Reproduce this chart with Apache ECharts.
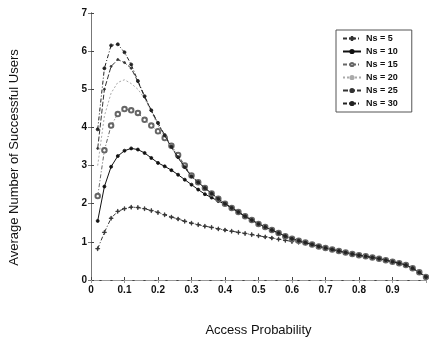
<!DOCTYPE html>
<html>
<head>
<meta charset="utf-8">
<script src="https://cdn.jsdelivr.net/npm/echarts@6/dist/echarts.min.js"></script>
<style>
  html, body { margin: 0; padding: 0; background: #fff; }
  #chart { width: 429px; height: 342px; }
</style>
</head>
<body>
<div id="chart"></div>
<script>
// access probability, step 0.02
const prob = [0.02, 0.04, 0.06, 0.08, 0.10, 0.12, 0.14, 0.16, 0.18, 0.20,
  0.22, 0.24, 0.26, 0.28, 0.30, 0.32, 0.34, 0.36, 0.38, 0.40,
  0.42, 0.44, 0.46, 0.48, 0.50, 0.52, 0.54, 0.56, 0.58, 0.60,
  0.62, 0.64, 0.66, 0.68, 0.70, 0.72, 0.74, 0.76, 0.78, 0.80,
  0.82, 0.84, 0.86, 0.88, 0.90, 0.92, 0.94, 0.96, 0.98, 1.00];

const ns5 = [0.82, 1.25, 1.62, 1.80, 1.87, 1.91, 1.90, 1.87, 1.82, 1.77,
  1.71, 1.65, 1.60, 1.54, 1.49, 1.45, 1.41, 1.38, 1.34, 1.31,
  1.28, 1.25, 1.22, 1.19, 1.16, 1.13, 1.10, 1.07, 1.04, 1.01,
  0.99, 0.97, 0.93, 0.88, 0.84, 0.80, 0.76, 0.72, 0.68, 0.65,
  0.62, 0.59, 0.56, 0.52, 0.48, 0.44, 0.39, 0.31, 0.20, 0.08];

const ns10 = [1.55, 2.45, 2.97, 3.25, 3.39, 3.45, 3.42, 3.33, 3.20, 3.07,
  2.98, 2.88, 2.76, 2.63, 2.50, 2.37, 2.25, 2.16, 2.07, 1.99,
  1.89, 1.78, 1.67, 1.57, 1.47, 1.39, 1.31, 1.23, 1.15, 1.08,
  1.03, 0.98, 0.93, 0.88, 0.84, 0.80, 0.76, 0.72, 0.68, 0.65,
  0.62, 0.59, 0.56, 0.52, 0.48, 0.44, 0.39, 0.31, 0.20, 0.08];

const ns15 = [2.20, 3.40, 4.05, 4.35, 4.48, 4.45, 4.38, 4.20, 4.05, 3.90,
  3.72, 3.52, 3.28, 3.00, 2.74, 2.56, 2.41, 2.27, 2.13, 2.00,
  1.89, 1.78, 1.67, 1.57, 1.47, 1.39, 1.31, 1.23, 1.15, 1.08,
  1.03, 0.98, 0.93, 0.88, 0.84, 0.80, 0.76, 0.72, 0.68, 0.65,
  0.62, 0.59, 0.56, 0.52, 0.48, 0.44, 0.39, 0.31, 0.20, 0.08];

const ns20 = [3.00, 4.30, 4.90, 5.18, 5.25, 5.15, 5.00, 4.76, 4.42, 4.05,
  3.76, 3.47, 3.20, 2.94, 2.71, 2.56, 2.41, 2.27, 2.13, 2.00,
  1.89, 1.78, 1.67, 1.57, 1.47, 1.39, 1.31, 1.23, 1.15, 1.08,
  1.03, 0.98, 0.93, 0.88, 0.84, 0.80, 0.76, 0.72, 0.68, 0.65,
  0.62, 0.59, 0.56, 0.52, 0.48, 0.44, 0.39, 0.31, 0.20, 0.08];

const ns25 = [3.45, 5.00, 5.60, 5.78, 5.70, 5.55, 5.20, 4.80, 4.44, 4.10,
  3.78, 3.48, 3.21, 2.95, 2.71, 2.56, 2.41, 2.27, 2.13, 2.00,
  1.89, 1.78, 1.67, 1.57, 1.47, 1.39, 1.31, 1.23, 1.15, 1.08,
  1.03, 0.98, 0.93, 0.88, 0.84, 0.80, 0.76, 0.72, 0.68, 0.65,
  0.62, 0.59, 0.56, 0.52, 0.48, 0.44, 0.39, 0.31, 0.20, 0.08];

const ns30 = [3.95, 5.55, 6.15, 6.18, 5.97, 5.65, 5.22, 4.82, 4.45, 4.12,
  3.80, 3.50, 3.22, 2.96, 2.72, 2.56, 2.41, 2.27, 2.13, 2.00,
  1.89, 1.78, 1.67, 1.57, 1.47, 1.39, 1.31, 1.23, 1.15, 1.08,
  1.03, 0.98, 0.93, 0.88, 0.84, 0.80, 0.76, 0.72, 0.68, 0.65,
  0.62, 0.59, 0.56, 0.52, 0.48, 0.44, 0.39, 0.31, 0.20, 0.08];

const seriesNames = ['Ns = 5', 'Ns = 10', 'Ns = 15', 'Ns = 20', 'Ns = 25', 'Ns = 30'];
const seriesValues = [ns5, ns10, ns15, ns20, ns25, ns30];

const plus = 'path://M0,4.4h10v1.2h-10zM4.4,0h1.2v10h-1.4z';
const styles = [
  { color: '#333', type: [4, 2, 1, 2], symbol: plus, size: 4 },
  { color: '#111', type: 'solid', symbol: 'circle', size: 3 },
  { color: '#666', type: [4, 2, 1, 2], symbol: 'emptyCircle', size: 4.5 },
  { color: '#aaa', type: [2, 2], symbol: 'none', size: 0 },
  { color: '#333', type: [5, 2], symbol: 'circle', size: 2 },
  { color: '#222', type: [4, 2, 1, 2], symbol: 'circle', size: 3 },
];

const chart = echarts.init(document.getElementById('chart'));

const fontFamily = 'Liberation Sans, Arial, sans-serif';
const tickFont = { color: '#111', fontFamily: fontFamily, fontSize: 10, fontWeight: 'bold' };

chart.setOption({
  animation: false,
  backgroundColor: '#fff',
  grid: { left: 91, right: 1, top: 13, bottom: 56 },
  legend: {
    orient: 'vertical',
    left: 336,
    top: 30,
    itemWidth: 18,
    itemHeight: 4,
    itemGap: 4,
    padding: [4, 14, 4, 6],
    borderColor: '#555',
    borderWidth: 1,
    backgroundColor: '#fff',
    textStyle: { color: '#111', fontFamily: fontFamily, fontSize: 9, fontWeight: 'bold' },
    data: seriesNames,
  },
  xAxis: [{
    type: 'value',
    min: 0,
    max: 1,
    interval: 0.1,
    name: 'Access Probability',
    nameLocation: 'middle',
    nameGap: 44,
    nameTextStyle: { color: '#111', fontFamily: fontFamily, fontSize: 13 },
    axisLine: { lineStyle: { color: '#444', width: 1 } },
    axisTick: { inside: true, length: 3, lineStyle: { color: '#444' } },
    axisLabel: Object.assign({ margin: 5, formatter: (v) => (v >= 1 ? '' : String(Math.round(v * 10) / 10)) }, tickFont),
    splitLine: { show: false },
  }, {
    type: 'value',
    position: 'top',
    min: 0,
    max: 1,
    interval: 0.1,
    axisLine: { lineStyle: { color: '#999', width: 1, type: [8, 3] } },
    axisTick: { inside: true, length: 3, lineStyle: { color: '#999' } },
    axisLabel: { show: false },
    splitLine: { show: false },
  }],
  yAxis: [{
    type: 'value',
    min: 0,
    max: 7,
    interval: 1,
    name: 'Average Number of Successful Users',
    nameLocation: 'middle',
    nameGap: 70,
    nameTextStyle: { color: '#111', fontFamily: fontFamily, fontSize: 13, padding: [0, 22, 0, 0] },
    axisLine: { show: true, lineStyle: { color: '#444', width: 1 } },
    axisTick: { show: true, inside: true, length: 3, lineStyle: { color: '#444' } },
    axisLabel: Object.assign({ margin: 4 }, tickFont),
    splitLine: { show: false },
  }, {
    type: 'value',
    position: 'right',
    min: 0,
    max: 7,
    interval: 1,
    axisLine: { show: true, lineStyle: { color: '#777', width: 1 } },
    axisTick: { show: true, inside: true, length: 3, lineStyle: { color: '#777' } },
    axisLabel: { show: false },
    splitLine: { show: false },
  }],
  series: seriesNames.map((name, i) => ({
    name: name,
    type: 'line',
    data: prob.map((p, j) => [p, seriesValues[i][j]]),
    symbol: styles[i].symbol,
    symbolSize: styles[i].size,
    showSymbol: styles[i].symbol !== 'none',
    lineStyle: { color: styles[i].color, width: 1, type: styles[i].type },
    itemStyle: { color: styles[i].color, borderColor: styles[i].color, borderWidth: 0.8 },
    z: 4 + i,
  })),
});
</script>
</body>
</html>
